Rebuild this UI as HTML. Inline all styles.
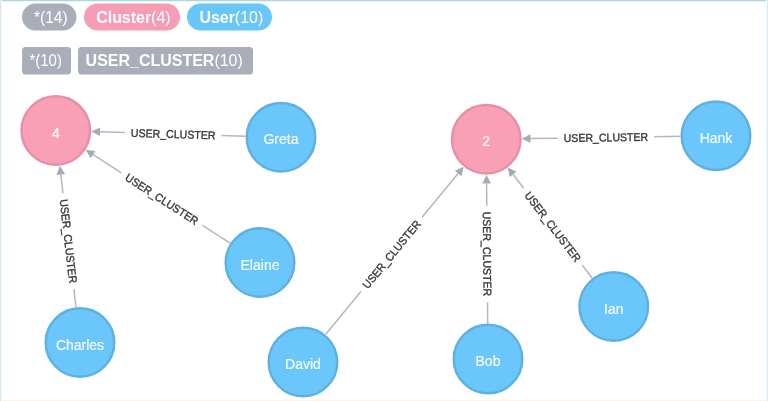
<!DOCTYPE html>
<html><head><meta charset="utf-8"><title>Graph</title>
<style>
html,body{margin:0;padding:0;background:#fff;}
body{width:768px;height:401px;overflow:hidden;position:relative;font-family:"Liberation Sans",Arial,Helvetica,sans-serif;}
.bt{position:absolute;left:0;top:0;width:768px;height:2px;background:linear-gradient(#a4d8e2 0,#a4d8e2 50%,#eef8fa 50%,#eef8fa 100%);}
.br{position:absolute;right:0;top:0;width:2px;height:401px;background:linear-gradient(90deg,#f3fdfe 0,#f3fdfe 50%,#c4f3fb 50%,#c4f3fb 100%);}
.bb{position:absolute;left:0;bottom:0;width:768px;height:1px;background:#fff2e6;}
.bl{position:absolute;left:0;top:0;width:2px;height:401px;background:linear-gradient(90deg,#d6e8ec 0,#d6e8ec 50%,#f8fbfc 50%,#f8fbfc 100%);}
svg{position:absolute;left:0;top:0;filter:blur(0.7px);}
.rt{font-size:11.2px;fill:#363636;stroke:#363636;stroke-width:0.35px;font-family:"Liberation Sans",Arial,sans-serif;}
.pt{font-size:16px;fill:#fff;font-family:"Liberation Sans",Arial,sans-serif;}
.nt{font-size:14px;fill:#f4fbff;stroke:#f4fbff;stroke-width:0.2px;font-family:"Liberation Sans",Arial,sans-serif;}
</style></head><body>
<svg width="768" height="401" viewBox="0 0 768 401">
<g transform="translate(281.00 137.25) rotate(-178.28)"><path d="M35.50 0H59.60M156.10 0H181.00" stroke="#b4b7bf" stroke-width="1.5" fill="none"/><path d="M189.80 0L181.00 -4.30L181.00 4.30Z" fill="#a5abb6"/><text class="rt" x="0" y="0" transform="translate(107.85 0) rotate(180)" text-anchor="middle" dy="4" textLength="84.5" lengthAdjust="spacingAndGlyphs">USER_CLUSTER</text></g>
<g transform="translate(260.00 262.50) rotate(-147.12)"><path d="M35.50 0H68.52M165.02 0H198.85" stroke="#b4b7bf" stroke-width="1.5" fill="none"/><path d="M207.65 0L198.85 -4.30L198.85 4.30Z" fill="#a5abb6"/><text class="rt" x="0" y="0" transform="translate(116.77 0) rotate(180)" text-anchor="middle" dy="4" textLength="84.5" lengthAdjust="spacingAndGlyphs">USER_CLUSTER</text></g>
<g transform="translate(80.00 342.50) rotate(-96.51)"><path d="M35.50 0H53.64M150.14 0H169.08" stroke="#b4b7bf" stroke-width="1.5" fill="none"/><path d="M177.88 0L169.08 -4.30L169.08 4.30Z" fill="#a5abb6"/><text class="rt" x="0" y="0" transform="translate(101.89 0) rotate(180)" text-anchor="middle" dy="4" textLength="84.5" lengthAdjust="spacingAndGlyphs">USER_CLUSTER</text></g>
<g transform="translate(303.00 362.00) rotate(-50.56)"><path d="M35.50 0H91.17M187.67 0H244.14" stroke="#b4b7bf" stroke-width="1.5" fill="none"/><path d="M252.94 0L244.14 -4.30L244.14 4.30Z" fill="#a5abb6"/><text class="rt" x="0" y="0" transform="translate(139.42 0) rotate(0)" text-anchor="middle" dy="4" textLength="84.5" lengthAdjust="spacingAndGlyphs">USER_CLUSTER</text></g>
<g transform="translate(716.00 135.75) rotate(179.13)"><path d="M35.50 0H61.84M158.34 0H185.48" stroke="#b4b7bf" stroke-width="1.5" fill="none"/><path d="M194.28 0L185.48 -4.30L185.48 4.30Z" fill="#a5abb6"/><text class="rt" x="0" y="0" transform="translate(110.09 0) rotate(180)" text-anchor="middle" dy="4" textLength="84.5" lengthAdjust="spacingAndGlyphs">USER_CLUSTER</text></g>
<g transform="translate(613.75 306.50) rotate(-127.32)"><path d="M35.50 0H52.10M148.60 0H166.01" stroke="#b4b7bf" stroke-width="1.5" fill="none"/><path d="M174.81 0L166.01 -4.30L166.01 4.30Z" fill="#a5abb6"/><text class="rt" x="0" y="0" transform="translate(100.35 0) rotate(180)" text-anchor="middle" dy="4" textLength="84.5" lengthAdjust="spacingAndGlyphs">USER_CLUSTER</text></g>
<g transform="translate(488.00 359.00) rotate(-90.46)"><path d="M35.50 0H56.83M153.33 0H175.46" stroke="#b4b7bf" stroke-width="1.5" fill="none"/><path d="M184.26 0L175.46 -4.30L175.46 4.30Z" fill="#a5abb6"/><text class="rt" x="0" y="0" transform="translate(105.08 0) rotate(180)" text-anchor="middle" dy="4" textLength="84.5" lengthAdjust="spacingAndGlyphs">USER_CLUSTER</text></g>
<circle cx="55.8" cy="130.5" r="34.3" fill="#f99fb6" stroke="#e78fa6" stroke-width="2.4"/>
<text class="nt" x="55.8" y="137.70" text-anchor="middle">4</text>
<circle cx="281" cy="137.25" r="34.3" fill="#6ac6fb" stroke="#5db0e0" stroke-width="2.4"/>
<text class="nt" x="281" y="144.45" text-anchor="middle">Greta</text>
<circle cx="260" cy="262.5" r="34.3" fill="#6ac6fb" stroke="#5db0e0" stroke-width="2.4"/>
<text class="nt" x="260" y="269.70" text-anchor="middle">Elaine</text>
<circle cx="80" cy="342.5" r="34.3" fill="#6ac6fb" stroke="#5db0e0" stroke-width="2.4"/>
<text class="nt" x="80" y="349.70" text-anchor="middle">Charles</text>
<circle cx="303" cy="362" r="34.3" fill="#6ac6fb" stroke="#5db0e0" stroke-width="2.4"/>
<text class="nt" x="303" y="369.20" text-anchor="middle">David</text>
<circle cx="486.25" cy="139.25" r="34.3" fill="#f99fb6" stroke="#e78fa6" stroke-width="2.4"/>
<text class="nt" x="486.25" y="146.45" text-anchor="middle">2</text>
<circle cx="716" cy="135.75" r="34.3" fill="#6ac6fb" stroke="#5db0e0" stroke-width="2.4"/>
<text class="nt" x="716" y="142.95" text-anchor="middle">Hank</text>
<circle cx="613.75" cy="306.5" r="34.3" fill="#6ac6fb" stroke="#5db0e0" stroke-width="2.4"/>
<text class="nt" x="613.75" y="313.70" text-anchor="middle">Ian</text>
<circle cx="488" cy="359" r="34.3" fill="#6ac6fb" stroke="#5db0e0" stroke-width="2.4"/>
<text class="nt" x="488" y="366.20" text-anchor="middle">Bob</text>
<rect x="22" y="3.5" width="54.5" height="27" rx="13.5" fill="#a9aeb9"/>
<text class="pt" x="34.0" y="22.60" textLength="33.6" lengthAdjust="spacingAndGlyphs">*(14)</text>
<rect x="84" y="3.5" width="96" height="27" rx="13.5" fill="#f79cb5"/>
<text class="pt" x="96.2" y="22.60" textLength="74.4" lengthAdjust="spacingAndGlyphs"><tspan font-weight="bold">Cluster</tspan>(4)</text>
<rect x="187" y="3.5" width="85" height="27" rx="13.5" fill="#69c6fb"/>
<text class="pt" x="199.4" y="22.60" textLength="63.8" lengthAdjust="spacingAndGlyphs"><tspan font-weight="bold">User</tspan>(10)</text>
<rect x="22" y="47" width="49" height="27.5" rx="3.5" fill="#a9aeb9"/>
<text class="pt" x="29.4" y="66.35" textLength="32.6" lengthAdjust="spacingAndGlyphs">*(10)</text>
<rect x="78" y="47" width="175" height="27.5" rx="3.5" fill="#a9aeb9"/>
<text class="pt" x="85.6" y="66.35" textLength="157.2" lengthAdjust="spacingAndGlyphs"><tspan font-weight="bold">USER_CLUSTER</tspan>(10)</text>
</svg>
<div class="bt"></div><div class="bb"></div><div class="bl"></div><div class="br"></div>
</body></html>
